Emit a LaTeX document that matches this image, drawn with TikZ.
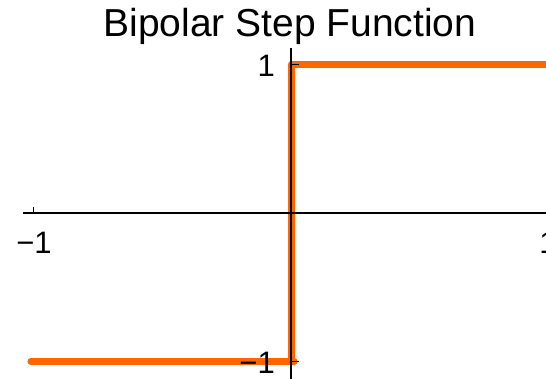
\documentclass[tikz,border=0pt]{standalone}
\usepackage{fontspec}
\setmainfont{Liberation Sans}
\definecolor{steporange}{RGB}{255,102,0}
\begin{document}
\begin{tikzpicture}[x=257pt,y=148.5pt,
  curve/.style={steporange,line width=7pt,line cap=round,line join=round},
  axis/.style={black,line width=1.3pt},
  tickmark/.style={black,line width=1pt},
  ticklabel/.style={font=\fontsize{31}{31}\selectfont,inner sep=0pt},
  titlelabel/.style={font=\fontsize{39}{39}\selectfont,inner sep=0pt}]
\useasboundingbox (-291pt,-165pt) rectangle (255pt,213pt);
\begin{scope}
\clip (-291pt,-165pt) rectangle (255pt,213pt);
% curve
\coordinate (c0) at (-1.012,-1);
\coordinate (c1) at (0.012,-1);
\coordinate (c2) at (0,-1);
\coordinate (c3) at (0,1);
\coordinate (c4) at (1.1,1);
\draw[curve] (c0) -- (c1);
\draw[curve] (c2) -- (c3) -- (c4);
% axes
\coordinate (xl) at (-1.043,0);
\coordinate (xr) at (1.1,0);
\coordinate (yt) at (0,1.111);
\coordinate (yb) at (0,-1.2);
\draw[axis] (xl) -- (xr);
\draw[axis] (yt) -- (yb);
% ticks
\coordinate (tx1) at (-1,0);
\coordinate (tx2) at (1,0);
\coordinate (ty1) at (0,1);
\coordinate (ty2) at (0,-1);
\draw[tickmark] (tx1) -- ++(0,6pt);
\draw[tickmark] (tx2) -- ++(0,6pt);
\draw[tickmark] (ty1) -- ++(8pt,0);
\draw[tickmark] (ty2) -- ++(8pt,0);
% labels
\node[ticklabel] (lx1) at ([yshift=-30pt]tx1) {−1};
\node[ticklabel] (lx2) at ([yshift=-30pt]tx2) {1};
\node[ticklabel,anchor=east] (ly1) at ([xshift=-16pt,yshift=-1pt]ty1) {1};
\node[ticklabel,anchor=east] (ly2) at ([xshift=-16pt,yshift=-1.5pt]ty2) {−1};
\end{scope}
\node[titlelabel,anchor=base] (title) at (-1pt,176pt) {Bipolar Step Function};
\end{tikzpicture}
\end{document}
